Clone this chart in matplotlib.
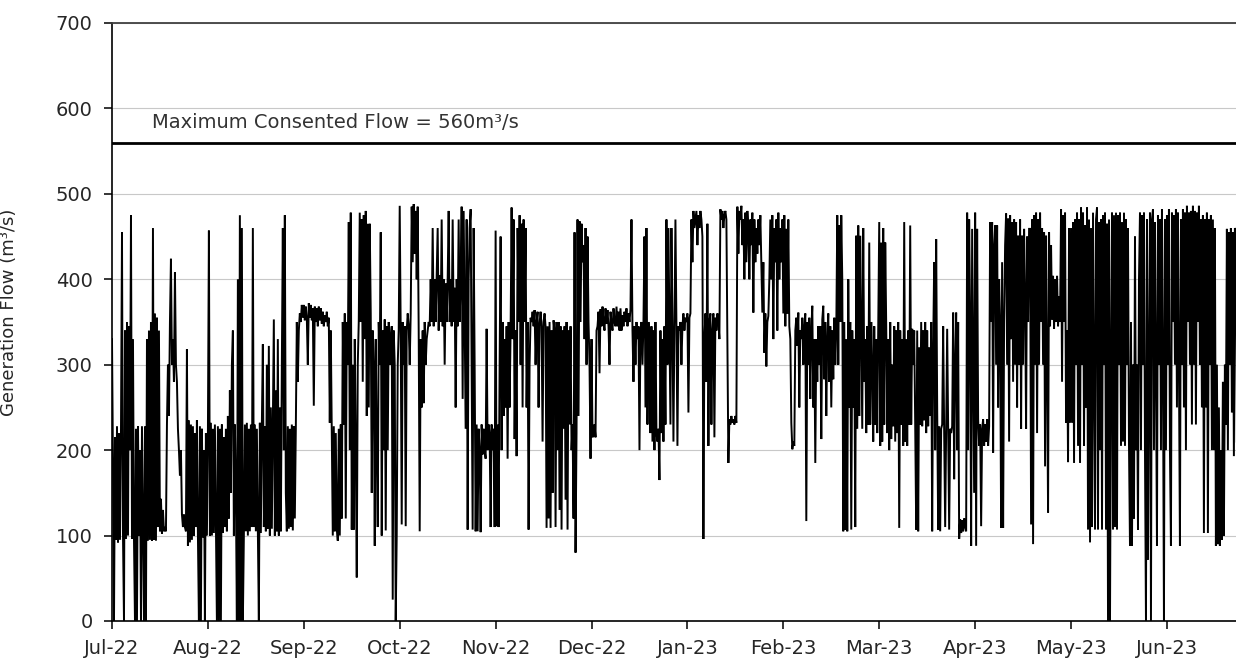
import numpy as np
import matplotlib.pyplot as plt

# month labels (category axis, equally spaced like the source chart)
months = ['Jul-22', 'Aug-22', 'Sep-22', 'Oct-22', 'Nov-22', 'Dec-22',
          'Jan-23', 'Feb-23', 'Mar-23', 'Apr-23', 'May-23', 'Jun-23']

# generation flow (m3/s), evenly spaced inside each month
flow_jul22 = [330, 180, 0,
              215, 95, 228, 92, 220, 95, 225,
              455, 100, 0,
              340, 96, 350, 100, 345, 200, 475, 96,
              330, 96,
              0, 225, 0, 228, 100, 200, 0, 228, 120, 0, 228, 0,
              330, 94, 340, 95, 350, 94,
              460, 95, 360, 94, 355, 110, 340,
              105, 143, 102, 130, 105, 110, 105,
              230, 300, 240, 350,
              424, 300, 330, 280, 408, 300, 280,
              225, 200, 170, 200, 125,
              110, 125, 110, 105,
              318, 88, 235, 92, 230, 95, 228, 100, 220, 110, 235, 100, 0,
              228, 0, 225, 98, 200, 0, 220, 100]
flow_aug22 = [220, 457,
              100, 232, 100, 225, 103, 230, 110,
              0, 228, 0, 225, 0,
              230, 103, 215, 110, 225, 105,
              240, 120, 270, 150, 300, 340,
              100, 230, 150, 0,
              400, 0, 475, 0, 460, 0,
              100, 230, 105, 232, 100, 225, 105, 230, 110, 460,
              110, 230, 105, 225, 105,
              0,
              232, 103, 230, 324, 110, 228,
              105, 300, 108, 322, 100, 250, 108, 230,
              353, 100, 270, 105, 330, 100, 250, 105, 300,
              460, 200, 475, 150,
              105, 228, 108, 225, 110, 230, 106, 228, 120, 225,
              350, 280, 340, 360, 350, 370, 355]
flow_sep22 = [370, 352, 368, 355, 300, 372, 355, 370, 352, 366, 252, 368, 350, 366, 345, 368,
              352, 366, 348, 362, 345, 358, 350, 362, 345, 355,
              232, 340, 225, 100, 228, 105, 220, 110,
              94, 225, 100, 230, 120,
              350, 230, 360, 120, 350, 300, 467,
              200, 478, 107, 300, 107, 330,
              200, 51, 300, 350, 478,
              350, 470, 280, 475, 330, 480, 240, 465, 250,
              465, 360, 150, 340, 300, 88, 330, 200,
              110, 350, 300, 455, 100,
              340, 200, 353, 106, 345, 200, 350, 300, 330,
              345, 25, 340, 300, 0, 100, 300, 340]
flow_oct22 = [486, 340, 113, 350, 300, 345, 111, 340, 360, 345, 300, 360,
              485, 420, 488, 430, 480, 400, 485, 340,
              105, 330, 250, 340, 255, 350, 300, 330, 340, 350,
              345, 400, 350, 460, 345, 400, 350, 405, 460, 340, 405, 350, 470, 345, 400, 300,
              395, 350, 400, 480, 350, 400, 345, 470, 350, 390, 250, 400, 345, 470, 350, 400,
              485, 260, 480, 350, 225, 470, 107, 400, 460, 482, 300, 107, 460, 300, 105,
              230, 105, 225, 200, 104, 230, 195, 225, 200, 190, 342, 200, 230, 220, 110, 230,
              200, 225, 110]
flow_nov22 = [457, 111, 230, 110, 300, 450, 200,
              350, 240, 330, 250, 345, 190, 350, 250, 340, 484,
              330, 470, 213, 340, 193, 460, 350, 475, 300, 465, 250, 470, 350, 460,
              250, 350, 107, 300, 355,
              350, 362, 345, 364, 300, 350, 362, 250, 348, 362, 345, 210, 350, 360, 345,
              109, 345, 120, 350, 109, 340, 150, 352, 338, 110,
              350, 200, 350, 130, 345, 107, 340, 225, 345, 142, 350, 107, 340, 230, 345, 200,
              230, 120, 455, 80, 220,
              470, 240, 468, 350, 465, 420, 440, 330, 460, 300, 450, 350, 300, 190]
flow_dec22 = [330, 215, 220, 230, 215, 340,
              345, 362, 290, 365, 345, 368, 350, 340, 366, 348, 364, 345, 300, 362, 348, 340,
              366, 350, 345, 368, 345, 362, 340, 366, 340, 358, 345, 362, 350, 366, 345, 360,
              350, 365,
              470, 340, 280, 345,
              300, 350, 330, 345, 200, 340, 350, 300, 350,
              450, 250, 460, 230, 350, 330, 220,
              345, 210, 340, 200, 350, 220, 210, 225, 165, 340, 220, 330, 210, 345, 230,
              470, 300, 460, 350, 230, 460, 345, 210, 350, 470, 345, 205, 345,
              340, 350, 300, 345, 360, 340, 355, 350]
flow_jan23 = [360, 244, 355, 360, 470, 420,
              480, 460, 470, 480, 440, 475, 460, 480, 470, 450,
              96, 330,
              360, 280, 465, 205, 350, 360, 230, 340, 360, 215, 355, 340, 360, 350, 330,
              482, 470, 480, 460, 475, 480, 470, 326,
              185, 236, 230, 240, 232, 236, 230, 240, 232,
              485, 430, 480, 470, 486, 440, 470, 400, 478, 420, 480, 460, 400, 470, 440, 478,
              361, 470, 420, 460, 430, 470, 440, 475, 420,
              361, 420, 314, 360, 298, 350, 357, 400,
              470, 400, 475, 330, 460, 420, 470, 340, 478, 400, 460, 420, 470]
flow_feb23 = [360, 475, 345, 459, 360, 470, 345,
              330, 232, 201, 210, 205, 340, 355,
              322, 361, 250, 340, 330, 355, 300, 345, 360, 117, 350, 300, 355,
              260, 340, 369, 250, 330, 185, 330, 280, 345, 300,
              345, 213, 353, 369, 283, 350, 240, 330, 360, 280, 345, 250, 340, 283, 355, 300, 340,
              475, 300, 463, 350, 475, 400,
              105, 350, 107, 330, 105, 400, 250, 350, 107, 340, 250, 330, 110, 451,
              225, 463, 240, 451, 340, 225, 460, 280, 330, 220,
              345, 230, 443, 230, 350, 300, 210, 345, 230, 330, 220, 350]
flow_mar23 = [467, 205, 443, 210, 460, 230, 443,
              345, 220, 330, 200, 350, 213, 300, 228, 345, 210, 340, 220, 350, 109,
              340, 230, 330, 205, 467, 210, 330, 205, 340, 230, 463, 230, 342,
              300, 340, 230, 107, 340, 105, 320,
              230, 350, 228, 340, 235, 350, 220, 340, 228, 320, 240, 350, 105,
              320, 420, 200, 447, 250, 107, 228,
              105, 225, 230, 345, 220, 110, 230, 342, 225, 107, 225, 220, 228,
              361, 166, 300, 361, 200, 350, 96,
              119, 103, 118, 105, 120, 110, 105,
              478, 200, 470, 350, 88, 459, 300, 150]
flow_apr23 = [478, 88, 459, 236, 205,
              230, 111, 225, 236, 205, 230, 210, 236, 205, 228,
              467, 350, 467, 197, 440, 463, 300, 463, 250, 400,
              350, 109, 420, 109, 350, 440, 477, 300, 471, 210,
              475, 330, 467, 280, 470, 300, 467, 250, 451, 300,
              470, 225, 451, 300, 459, 380, 225, 450, 350, 459,
              459, 113, 470, 90, 475, 300, 478, 220, 470, 300,
              478, 350, 460, 300, 455, 181, 451, 300, 127, 455,
              345, 440, 353, 404, 342, 400, 350, 404, 345, 380,
              350, 482, 280, 475, 350, 478, 232, 340, 186, 460, 232]
flow_may23 = [460, 232, 467, 185, 470, 300,
              478, 205, 470, 185, 484, 300, 478, 205, 463, 250,
              484, 107, 470, 92, 460, 110, 478, 300, 107, 470,
              484, 107, 467, 200, 470, 107, 475, 300, 478, 107, 465,
              0, 470, 0, 300,
              478, 107, 475, 110, 478, 107, 475, 300,
              478, 205, 467, 210, 478, 205, 470, 300, 460, 205,
              88, 350, 88, 300, 120, 450, 200, 300, 107, 400,
              478, 200, 475, 300, 478, 200, 0, 470, 72, 300, 478, 0, 470,
              482, 200, 467, 300, 88, 475, 300, 470, 200, 482, 300, 0, 470, 200]
flow_jun23 = [475, 300, 482, 200, 88, 478, 350, 475, 300, 482, 250, 478, 300,
              88, 470, 300, 482, 250, 478, 200, 486, 350, 478, 300, 480, 230,
              486, 300, 480, 230, 478, 350, 486, 300, 470, 250, 475, 103, 470, 250,
              478, 103, 470, 300, 475, 200,
              470, 200, 460, 88, 300, 90, 250, 88, 200, 95, 280, 100, 300, 230,
              459, 200, 455, 300, 460, 244, 455, 193, 460,
              455, 210, 450, 230, 460, 200, 455, 220, 440, 240, 450, 210, 445, 230,
              440, 220, 450, 200, 460, 230, 455, 210, 450, 240, 445, 220, 450]

max_flow = 560

flows = [flow_jul22, flow_aug22, flow_sep22, flow_oct22, flow_nov22, flow_dec22,
         flow_jan23, flow_feb23, flow_mar23, flow_apr23, flow_may23, flow_jun23]
x = np.concatenate([i + np.arange(len(f)) / len(f) for i, f in enumerate(flows)])
y = np.concatenate(flows)

fig = plt.figure(figsize=(12.36, 6.64), dpi=100)
ax = fig.add_axes([112 / 1236, 43 / 664, 1124 / 1236, 598 / 664])

ax.plot(x, y, color='black', lw=1.4, solid_joinstyle='miter')
ax.axhline(max_flow, color='black', lw=2.0)
ax.text(0.42, 583, 'Maximum Consented Flow = 560m\u00b3/s', fontsize=14,
        color='#333333', ha='left', va='center')

ax.set_xlim(0, 11.72)
ax.set_ylim(0, 700)
ax.set_yticks(range(0, 701, 100))
ax.set_xticks(range(len(months)))
ax.set_xticklabels(months)

ax.grid(axis='y', color='#c8c8c8', lw=0.8)
ax.set_axisbelow(True)
ax.spines['right'].set_visible(False)
ax.spines['top'].set_color('#404040')
ax.spines['top'].set_linewidth(1.3)
for s in ['left', 'bottom']:
    ax.spines[s].set_color('black')
    ax.spines[s].set_linewidth(1.2)

ax.tick_params(direction='out', length=6, width=1.1, labelsize=14,
               labelcolor='#262626')
ax.tick_params(axis='x', pad=7)
ax.tick_params(axis='y', pad=8)

ax.set_ylabel('Generation Flow (m\u00b3/s)', fontsize=13, color='#262626')
ax.yaxis.set_label_coords(-0.0836, 0.517)

fig.savefig('out.png', dpi=100)
